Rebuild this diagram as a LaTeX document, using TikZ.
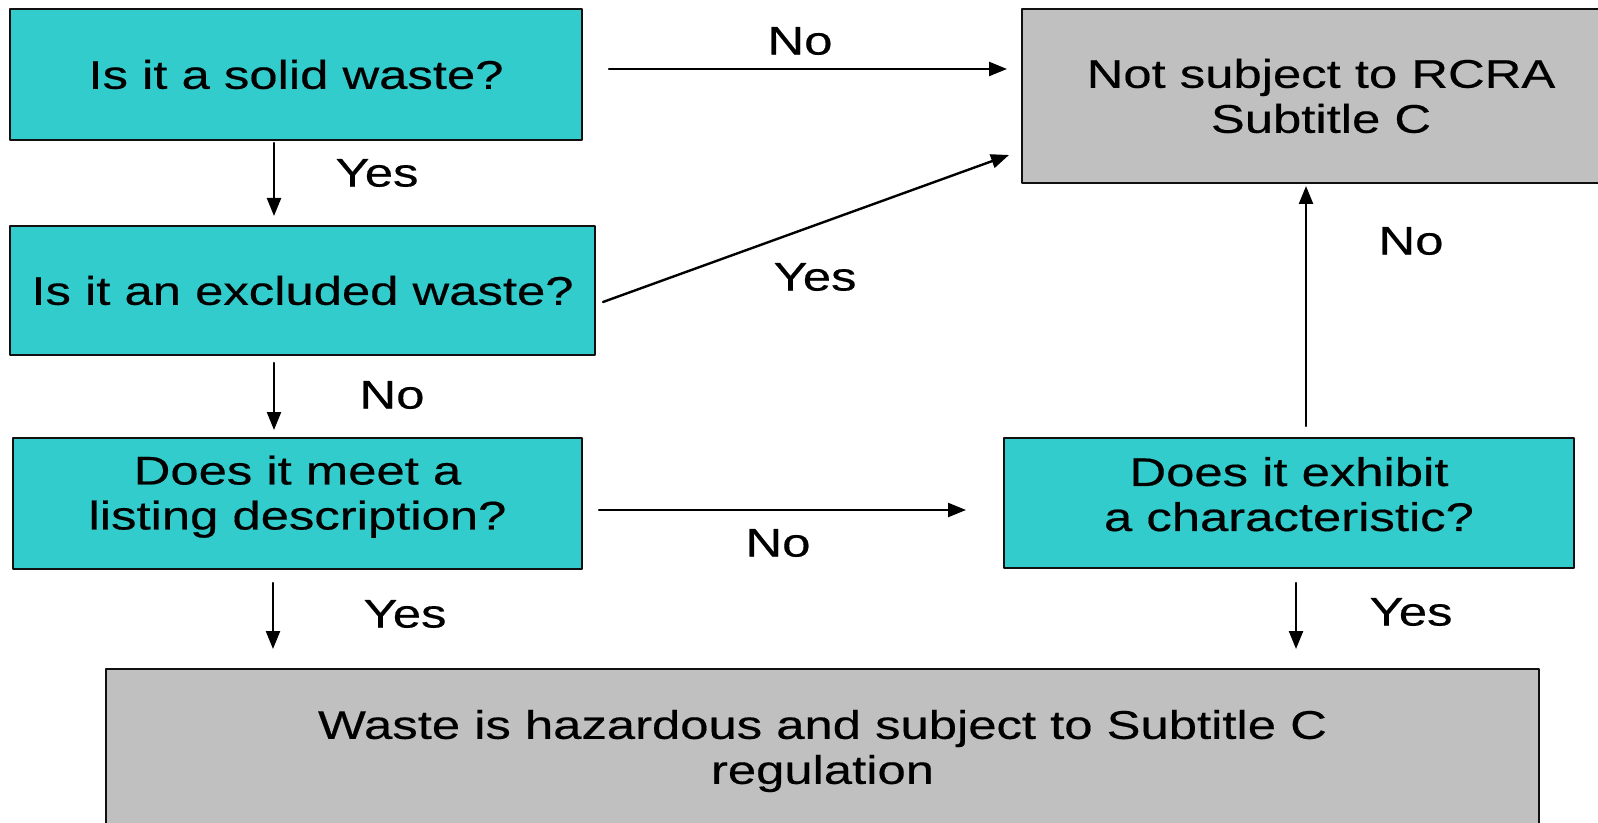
\documentclass[tikz,border=0pt]{standalone}
\usepackage{fontspec}
\setmainfont{Liberation Sans}[FakeStretch=1.27,FakeBold=0.4]
\usetikzlibrary{arrows.meta}
\definecolor{BoxCyan}{HTML}{33CCCC}
\definecolor{BoxGray}{HTML}{C0C0C0}
\definecolor{InkDark}{HTML}{101010}

\begin{document}
\begin{tikzpicture}[x=0.5pt,y=-0.5pt,line cap=round,line join=round,
  font=\fontsize{20}{22.5}\selectfont,text=black,
  ask/.style={draw=InkDark,line width=1pt,fill=BoxCyan,align=center,inner sep=0pt},
  outcome/.style={draw=InkDark,line width=1pt,fill=BoxGray,align=center,inner sep=0pt},
  flow/.style={-{Triangle[length=9pt,width=7pt]},line width=1.2pt,draw=black}]
  \useasboundingbox[fill=white] (0,0) rectangle (1598,823);
  % question boxes
  \node[ask,minimum width=286pt,minimum height=65.5pt] (solid) at (296,74.5) {Is it a solid waste?};
  \node[ask,minimum width=292.5pt,minimum height=64.5pt] (excl) at (302.5,290.5) {Is it an excluded waste?};
  \node[ask,minimum width=284.5pt,minimum height=65.5pt,text depth=11pt] (listed) at (297.5,503.5) {Does it meet a\\listing description?};
  \node[ask,minimum width=285pt,minimum height=65pt,text depth=9pt] (charac) at (1289,503) {Does it exhibit\\a characteristic?};
  % outcome boxes
  \node[outcome,minimum width=299pt,minimum height=87pt] (notsub) at (1321,96) {Not subject to RCRA\\Subtitle C};
  \node[outcome,minimum width=716.5pt,minimum height=82pt] (hazard) at (822.5,751) {Waste is hazardous and subject to Subtitle C\\regulation};
  % arrow ends
  \coordinate (solidR) at (609,69);   \coordinate (notsubL) at (1007,69);
  \coordinate (solidB) at (274,143);  \coordinate (exclT) at (274,216);
  \coordinate (exclR) at (603,302);   \coordinate (notsubLB) at (1009,155);
  \coordinate (exclB) at (274,363);   \coordinate (listedT) at (274,430);
  \coordinate (listedR) at (599,510); \coordinate (characL) at (966,510);
  \coordinate (characT) at (1306,426);\coordinate (notsubB) at (1306,186);
  \coordinate (listedB) at (273,583); \coordinate (hazardL) at (273,649);
  \coordinate (characB) at (1296,583);\coordinate (hazardR) at (1296,649);
  \draw[flow] (solidR) -- (notsubL);
  \draw[flow] (solidB) -- (exclT);
  \draw[flow] (exclR) -- (notsubLB);
  \draw[flow] (exclB) -- (listedT);
  \draw[flow] (listedR) -- (characL);
  \draw[flow] (characT) -- (notsubB);
  \draw[flow] (listedB) -- (hazardL);
  \draw[flow] (characB) -- (hazardR);
  % labels
  \node (l1) at (800,41) {No};
  \node (l2) at (377,173) {Yes};
  \node (l3) at (815,277) {Yes};
  \node (l4) at (392,395) {No};
  \node (l5) at (778,543) {No};
  \node (l6) at (1411,241) {No};
  \node (l7) at (405,614) {Yes};
  \node (l8) at (1411,612) {Yes};
\end{tikzpicture}
\end{document}
